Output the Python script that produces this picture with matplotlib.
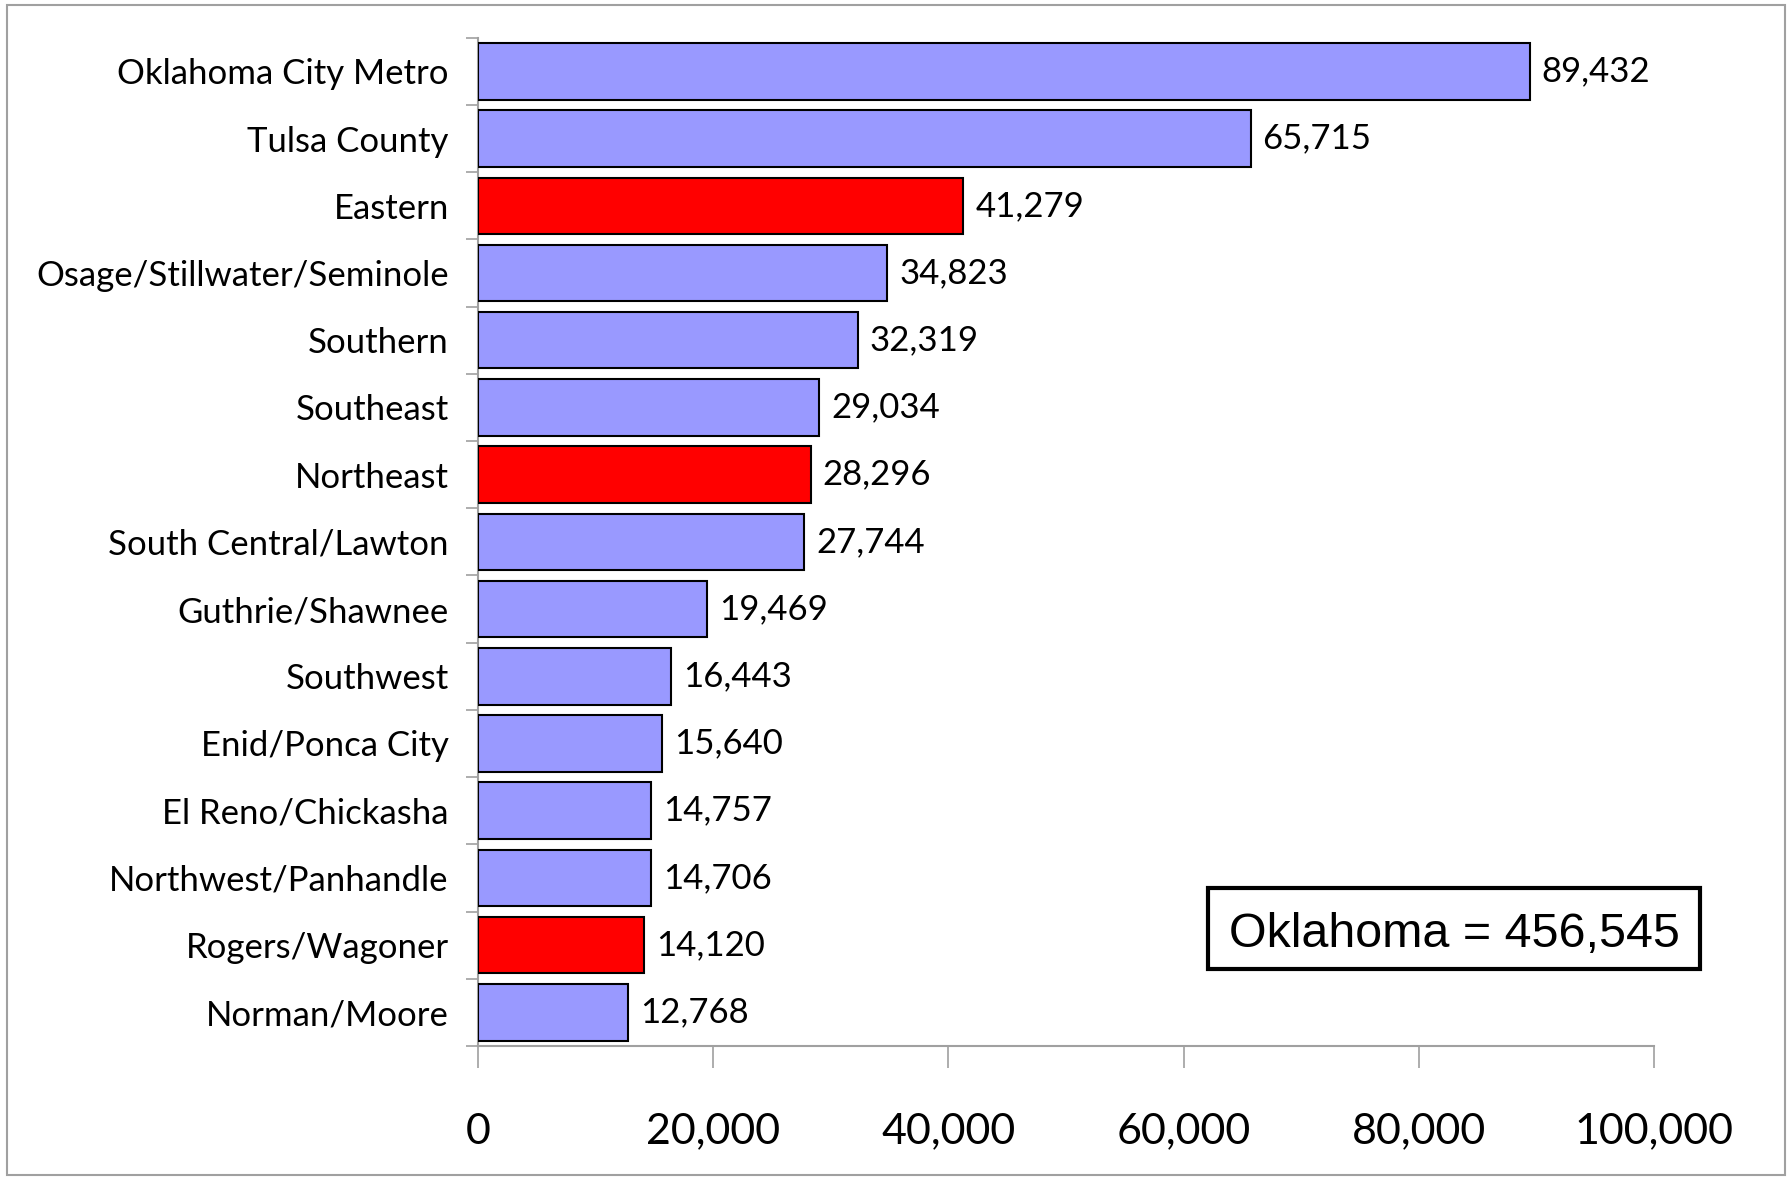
import matplotlib.pyplot as plt
from matplotlib.patches import Rectangle
import numpy as np

# regions and counts, top to bottom
regions = ["Oklahoma City Metro", "Tulsa County", "Eastern", "Osage/Stillwater/Seminole",
           "Southern", "Southeast", "Northeast", "South Central/Lawton", "Guthrie/Shawnee",
           "Southwest", "Enid/Ponca City", "El Reno/Chickasha", "Northwest/Panhandle",
           "Rogers/Wagoner", "Norman/Moore"]
counts = [89432, 65715, 41279, 34823, 32319, 29034, 28296, 27744, 19469,
          16443, 15640, 14757, 14706, 14120, 12768]
highlight = ["Eastern", "Northeast", "Rogers/Wagoner"]
xticks = [0, 20000, 40000, 60000, 80000, 100000]
total_label = "Oklahoma = 456,545"

lab_font = "Lato"
grey = "#a0a0a0"

fig = plt.figure(figsize=(17.92, 11.8), dpi=100)
ax = fig.add_axes([0.2667, 0.1136, 0.923 - 0.2667, 0.968 - 0.1136])

y = np.arange(len(regions))
colors = ["#ff0000" if r in highlight else "#9999ff" for r in regions]
ax.barh(y, counts, height=0.84, color=colors, edgecolor="black", linewidth=1.5, zorder=3)

for yi, v in zip(y, counts):
    ax.text(v + 1000, yi, f"{v:,}", va="center", ha="left", fontsize=25, family=lab_font)

ax.set_ylim(len(regions) - 0.5, -0.5)
ax.set_xlim(0, 100000)

ax.set_yticks(y)
ax.set_yticklabels(regions, fontsize=25, family=lab_font)
ax.set_yticks(np.arange(-0.5, len(regions), 1), minor=True)
ax.tick_params(axis="y", which="major", length=0, pad=21)
ax.tick_params(axis="y", which="minor", length=9, color=grey, width=1.2)

ax.set_xticks(xticks)
ax.set_xticklabels([f"{t:,}" for t in xticks], fontsize=31, family=lab_font)
ax.tick_params(axis="x", length=16, color=grey, width=1.2, pad=32)

for s in ["top", "right"]:
    ax.spines[s].set_visible(False)
for s in ["left", "bottom"]:
    ax.spines[s].set_color(grey)
    ax.spines[s].set_linewidth(1.5)

# total box
ax.add_patch(Rectangle((0.6207, 0.0766), 0.4183, 0.0796, transform=ax.transAxes,
                       fill=False, edgecolor="black", linewidth=3, clip_on=False, zorder=5))
ax.text(0.83, 0.1105, total_label, transform=ax.transAxes, ha="center", va="center",
        fontsize=34.8, family="Liberation Sans")

# outer frame
fig.add_artist(Rectangle((0.004, 0.004), 0.992, 0.992, transform=fig.transFigure,
                         fill=False, edgecolor=grey, linewidth=1.5))

plt.savefig("out.png", dpi=100)
